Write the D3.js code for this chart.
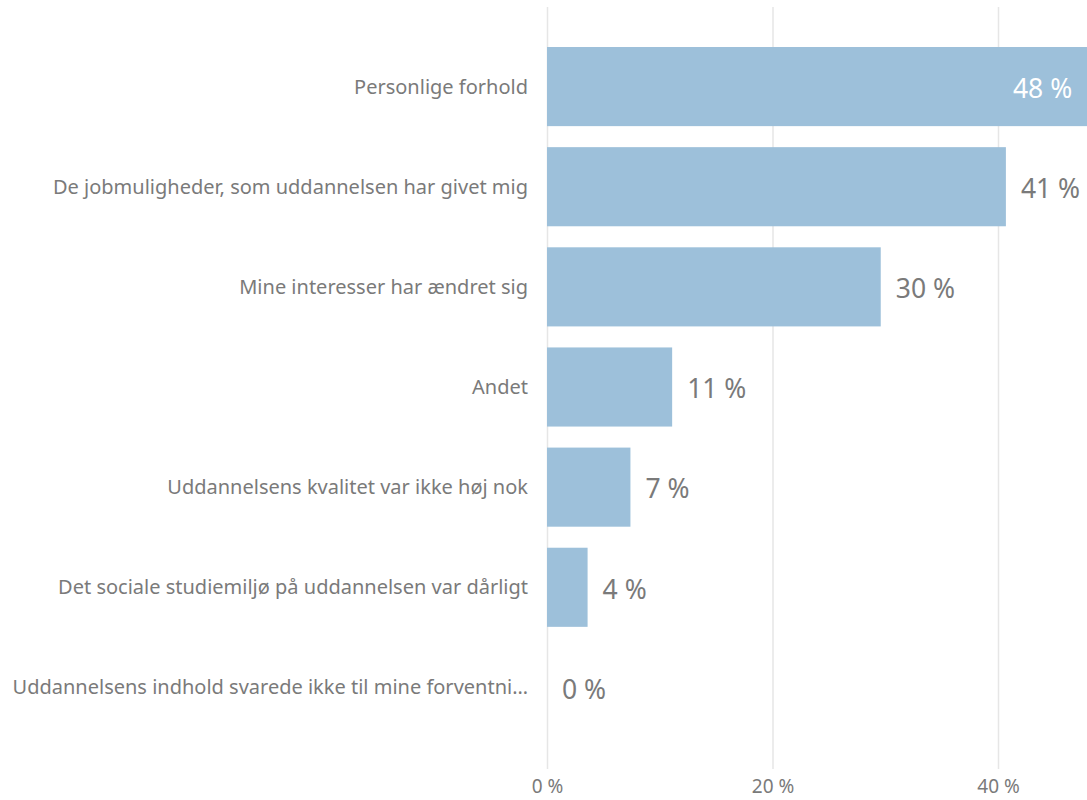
<!DOCTYPE html>
<html>
<head>
<meta charset="utf-8">
<script src="https://cdn.jsdelivr.net/npm/d3@7"></script>
<style>
  body { margin: 0; background: #fff; }
  svg text { font-family: "Noto Sans", "Open Sans", sans-serif; }
</style>
</head>
<body>
<script>
var width  = 1087
var height = 800

// data
var categories = [
  'Personlige forhold',
  'De jobmuligheder, som uddannelsen har givet mig',
  'Mine interesser har ændret sig',
  'Andet',
  'Uddannelsens kvalitet var ikke høj nok',
  'Det sociale studiemiljø på uddannelsen var dårligt',
  'Uddannelsens indhold svarede ikke til mine forventni…'
]
var values = [48, 40.7, 29.6, 11.1, 7.4, 3.6, 0]
var ticks  = [0, 20, 40]

var data = categories.map((c, i) => ({ name: c, value: values[i] }))

var svg = d3.select('body')
  .append('svg')
  .attr('width', width)
  .attr('height', height)

var xScale = d3.scaleLinear()
  .domain([0, 40])
  .range([547, 998])

var yScale = d3.scaleBand()
  .domain(categories)
  .range([37, 737])
  .paddingInner(0.21)
  .paddingOuter(0.1)

// gridlines
svg.append('g')
  .selectAll('line')
  .data(ticks)
  .enter()
  .append('line')
  .attr('x1', d => xScale(d) + 0.5)
  .attr('x2', d => xScale(d) + 0.5)
  .attr('y1', 7)
  .attr('y2', 769)
  .attr('stroke', '#e6e6e6')
  .attr('stroke-width', 1.5)

// bars
svg.append('g')
  .selectAll('rect')
  .data(data)
  .enter()
  .append('rect')
  .attr('x', xScale(0))
  .attr('y', d => yScale(d.name))
  .attr('width', d => xScale(d.value) - xScale(0))
  .attr('height', yScale.bandwidth())
  .attr('fill', '#9dc0da')

// value labels
svg.append('g')
  .selectAll('text')
  .data(data)
  .enter()
  .append('text')
  .attr('x', d => d.value > 45 ? xScale(d.value) - 16 : xScale(d.value) + 15)
  .attr('y', d => yScale(d.name) + yScale.bandwidth() / 2 + 2)
  .attr('dy', '0.35em')
  .attr('text-anchor', d => d.value > 45 ? 'end' : 'start')
  .attr('font-size', 26.5)
  .attr('fill', d => d.value > 45 ? '#ffffff' : '#7a7a7a')
  .text(d => Math.round(d.value) + ' %')

// category labels
svg.append('g')
  .selectAll('text')
  .data(data)
  .enter()
  .append('text')
  .attr('x', 528)
  .attr('y', d => yScale(d.name) + yScale.bandwidth() / 2)
  .attr('dy', '0.35em')
  .attr('text-anchor', 'end')
  .attr('font-size', 20)
  .attr('fill', '#7a7a7a')
  .text(d => d.name)

// x axis labels
var xAxis = d3.axisBottom(xScale)
  .tickValues(ticks)
  .tickSize(0)
  .tickPadding(0)
  .tickFormat(d => d + ' %')

var axisG = svg.append('g')
  .attr('transform', 'translate(0, 779)')
  .call(xAxis)

axisG.select('.domain').remove()
axisG.selectAll('text')
  .attr('font-size', 19)
  .attr('fill', '#7a7a7a')
  .attr('font-family', '"Noto Sans", "Open Sans", sans-serif')
</script>
</body>
</html>
